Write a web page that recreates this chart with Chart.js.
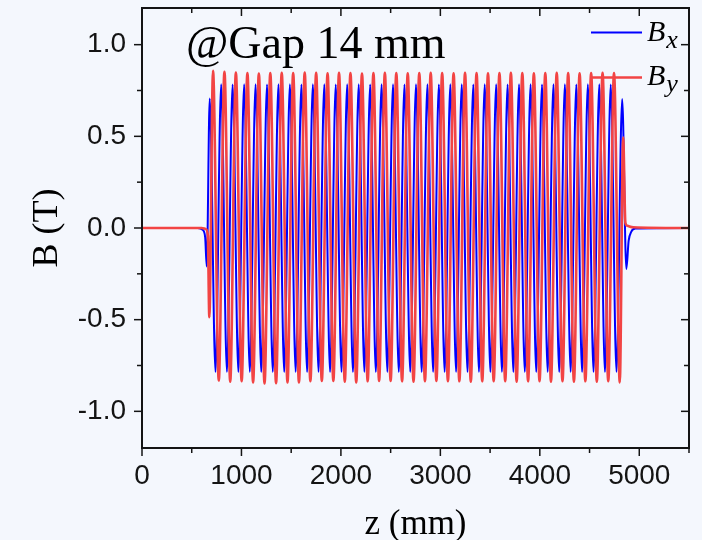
<!DOCTYPE html>
<html>
<head>
<meta charset="utf-8">
<script src="https://cdn.jsdelivr.net/npm/chart.js@4.4.0/dist/chart.umd.min.js"></script>
<style>
  html, body { margin: 0; padding: 0; background: #f4f7fd; }
  #wrap { position: relative; width: 702px; height: 540px; }
</style>
</head>
<body>
<div id="wrap"><canvas id="chart"></canvas></div>
<script>
// Bx: z (mm) of the curve points (entrance, alternating peaks/troughs, exit) and field (T)
const bxZ = [0, 560, 610, 635, 651,
  681, 739, 796, 854, 911, 969, 1027, 1084, 1142, 1199, 1257, 1315, 1372, 1430, 1487, 1545,
  1603, 1660, 1718, 1775, 1833, 1891, 1948, 2006, 2063, 2121, 2179, 2236, 2294, 2351, 2409,
  2467, 2524, 2582, 2639, 2697, 2755, 2812, 2870, 2927, 2985, 3043, 3100, 3158, 3215, 3273,
  3331, 3388, 3446, 3503, 3561, 3619, 3676, 3734, 3791, 3849, 3907, 3964, 4022, 4079, 4137,
  4195, 4252, 4310, 4367, 4425, 4483, 4540, 4598, 4655, 4713, 4771, 4828,
  4870, 4893, 4920, 4960, 5500];
const bxB = [0, 0, -0.01, -0.05, -0.21,
  0.707,
  -0.786, 0.784, -0.785, 0.783, -0.786, 0.784, -0.785, 0.784, -0.786, 0.783,
  -0.785, 0.784, -0.786, 0.784, -0.785, 0.783, -0.786, 0.784, -0.785, 0.784,
  -0.786, 0.783, -0.785, 0.784, -0.786, 0.784, -0.785, 0.783, -0.786, 0.784,
  -0.785, 0.784, -0.786, 0.783, -0.785, 0.784, -0.786, 0.784, -0.785, 0.783,
  -0.786, 0.784, -0.785, 0.784, -0.786, 0.783, -0.785, 0.784, -0.786, 0.784,
  -0.785, 0.783, -0.786, 0.784, -0.785, 0.784, -0.786, 0.783, -0.785, 0.784,
  -0.786, 0.784, -0.785, 0.783, -0.786, 0.784, -0.785, 0.784, -0.786, 0.783, -0.785, 0.703,
  -0.223, -0.07, -0.02, -0.003, 0];

// By: same layout
const byZ = [0, 600, 640, 662, 677,
  714, 772, 829, 887, 944, 1002, 1060, 1117, 1175, 1232, 1290, 1348, 1405, 1463, 1520, 1578,
  1636, 1693, 1751, 1808, 1866, 1924, 1981, 2039, 2096, 2154, 2212, 2269, 2327, 2384, 2442,
  2500, 2557, 2615, 2672, 2730, 2788, 2845, 2903, 2960, 3018, 3076, 3133, 3191, 3248, 3306,
  3364, 3421, 3479, 3536, 3594, 3652, 3709, 3767, 3824, 3882, 3940, 3997, 4055, 4112, 4170,
  4228, 4285, 4343, 4400, 4458, 4516, 4573, 4631, 4688, 4746, 4804,
  4838, 4860, 4880, 4940, 5500];
const byB = [0, 0, -0.005, -0.04, -0.487,
  0.857, -0.832, 0.852, -0.838, 0.848, -0.835, 0.845, -0.842, 0.843, -0.848,
  0.845, -0.847, 0.846, -0.842, 0.845, -0.842, 0.848, -0.835, 0.846, -0.834,
  0.844, -0.834, 0.846, -0.838, 0.845, -0.842, 0.843, -0.836, 0.845, -0.834,
  0.846, -0.834, 0.845, -0.836, 0.844, -0.838, 0.845, -0.836, 0.846, -0.834,
  0.845, -0.835, 0.844, -0.836, 0.846, -0.838, 0.845, -0.836, 0.844, -0.835,
  0.845, -0.836, 0.846, -0.838, 0.845, -0.836, 0.844, -0.835, 0.845, -0.838,
  0.846, -0.836, 0.845, -0.838, 0.844, -0.836, 0.845, -0.838, 0.846, -0.836,
  0.845, -0.842,
  0.494, 0.03, 0.012, 0.004, 0];

const xTickValues = [0, 1000, 2000, 3000, 4000, 5000];
const xMinorValues = [500, 1500, 2500, 3500, 4500, 5500];
const yTickValues = [-1, -0.5, 0, 0.5, 1];
const yMinorValues = [-0.75, -0.25, 0.25, 0.75];

const BG = '#f4f7fd';
const INK = '#141414';

if (bxZ.length !== bxB.length || byZ.length !== byB.length) {
  throw new Error('length mismatch ' + bxZ.length + '/' + bxB.length + ' ' + byZ.length + '/' + byB.length);
}

const toPoints = (zs, bs) => zs.map((z, i) => ({ x: z, y: bs[i] }));

// Background, frame with mirrored ticks, note and legend
const framePlugin = {
  id: 'frame',
  beforeDraw(chart) {
    const { ctx, width, height } = chart;
    ctx.save();
    ctx.fillStyle = BG;
    ctx.fillRect(0, 0, width, height);
    ctx.restore();
  },
  afterDatasetsDraw(chart) {
    const { ctx, chartArea: a, scales: { x, y } } = chart;
    ctx.save();
    ctx.strokeStyle = INK;
    ctx.lineWidth = 1.5;
    let seg = (x1, y1, x2, y2) => {
      ctx.beginPath();
      ctx.moveTo(x1, y1);
      ctx.lineTo(x2, y2);
      ctx.stroke();
    };
    let xMarks = (vals, len) => vals.forEach((v) => {
      let px = x.getPixelForValue(v);
      seg(px, a.bottom, px, a.bottom + len); // outward
      seg(px, a.top, px, a.top + len); // inward
    });
    let yMarks = (vals, len) => vals.forEach((v) => {
      let py = y.getPixelForValue(v);
      seg(a.left - len, py, a.left, py);
      seg(a.right - len, py, a.right, py);
    });
    xMarks(xTickValues, 8);
    xMarks(xMinorValues, 5);
    yMarks(yTickValues, 8);
    yMarks(yMinorValues, 5);
    ctx.lineWidth = 2;
    ctx.strokeRect(a.left, a.top, a.right - a.left, a.bottom - a.top);
    ctx.restore();
  },
  afterDraw(chart) {
    const { ctx } = chart;
    ctx.save();
    ctx.fillStyle = '#000';
    ctx.textBaseline = 'alphabetic';
    ctx.font = '46px "Liberation Serif"';
    ctx.fillText('@Gap 14 mm', 186, 58);

    // legend
    let items = [
      { color: '#0000ff', width: 2, lineY: 32.5, base: 41, sub: 'x', subBase: 47.5 },
      { color: 'rgb(242,68,68)', width: 2.6, lineY: 77.5, base: 85, sub: 'y', subBase: 92 },
    ];
    items.forEach((it) => {
      ctx.strokeStyle = it.color;
      ctx.lineWidth = it.width;
      ctx.beginPath();
      ctx.moveTo(591, it.lineY);
      ctx.lineTo(642, it.lineY);
      ctx.stroke();
      ctx.font = 'italic 30px "Liberation Serif"';
      ctx.fillText('B', 647, it.base);
      let w = ctx.measureText('B').width;
      ctx.font = 'italic 26px "Liberation Serif"';
      ctx.fillText(it.sub, 647 + w + 1, it.subBase);
    });
    ctx.restore();
  },
};

new Chart(document.getElementById('chart'), {
  type: 'line',
  data: {
    datasets: [
      {
        label: 'Bx',
        data: toPoints(bxZ, bxB),
        borderColor: '#0000ff',
        borderWidth: 2,
        order: 2,
      },
      {
        label: 'By',
        data: toPoints(byZ, byB),
        borderColor: 'rgb(242,68,68)',
        borderWidth: 2.6,
        order: 1,
      },
    ],
  },
  options: {
    responsive: true,
    maintainAspectRatio: false,
    animation: false,
    layout: { padding: { left: 0, right: 13, top: 8, bottom: 0 } },
    elements: {
      point: { radius: 0 },
      line: { cubicInterpolationMode: 'monotone', fill: false },
    },
    plugins: {
      legend: { display: false },
      tooltip: { enabled: false },
    },
    scales: {
      x: {
        type: 'linear',
        min: 0,
        max: 5500,
        grid: { display: false, drawTicks: false },
        border: { display: false },
        afterBuildTicks: (s) => { s.ticks = xTickValues.map((v) => ({ value: v })); },
        ticks: {
          callback: (v) => String(v),
          font: { family: 'Liberation Sans', size: 28 },
          color: INK,
          padding: 11,
          maxRotation: 0,
          autoSkip: false,
        },
        title: {
          display: true,
          text: 'z (mm)',
          font: { family: 'Liberation Serif', size: 35, lineHeight: 1 },
          color: '#000',
          padding: { top: 0, bottom: -2.5 },
        },
        afterFit: (s) => {
          s.height = 92;
          s.paddingLeft = 0;
          s.paddingRight = 0;
        },
      },
      y: {
        type: 'linear',
        min: -1.2,
        max: 1.2,
        grid: { display: false, drawTicks: false },
        border: { display: false },
        afterBuildTicks: (s) => { s.ticks = yTickValues.map((v) => ({ value: v })); },
        ticks: {
          callback: (v) => v.toFixed(1),
          font: { family: 'Liberation Sans', size: 28 },
          color: INK,
          padding: 16,
          autoSkip: false,
        },
        title: {
          display: true,
          text: 'B (T)',
          font: { family: 'Liberation Serif', size: 36, lineHeight: 1 },
          color: '#000',
          padding: { top: 30, bottom: 0 },
        },
        afterFit: (s) => {
          s.width = 142;
          s.paddingTop = 0;
          s.paddingBottom = 0;
        },
      },
    },
  },
  plugins: [framePlugin],
});
</script>
</body>
</html>
